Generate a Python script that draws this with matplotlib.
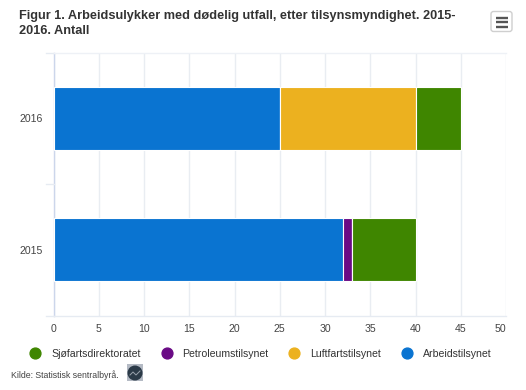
import matplotlib
matplotlib.use('Agg')
import matplotlib.pyplot as plt
from matplotlib.patches import FancyBboxPatch, Circle, Rectangle
from matplotlib.lines import Line2D

years = ['2015', '2016']
arbeid = [32, 25]
luftfart = [0, 15]
petroleum = [1, 0]
sjofart = [7, 5]
xticks = [0, 5, 10, 15, 20, 25, 30, 35, 40, 45, 50]

names = ['Sjøfartsdirektoratet', 'Petroleumstilsynet', 'Luftfartstilsynet', 'Arbeidstilsynet']
colors = ['#3f8600', '#6a0a85', '#ecb11f', '#0a74d1']

plt.rcParams['font.family'] = ['Liberation Sans', 'DejaVu Sans']

W, H = 526, 390
fig = plt.figure(figsize=(W / 100, H / 100), dpi=100)
ax = fig.add_axes([53.5 / W, (H - 315.5) / H, 452.5 / W, 263 / H])

y = [0, 1]
left = [0, 0]
# same stacking order as the picture, from the left
for vals, col in [(arbeid, colors[3]), (petroleum, colors[1]), (luftfart, colors[2]), (sjofart, colors[0])]:
    ax.barh(y, vals, left=left, height=0.48, color=col, edgecolor='white', linewidth=0.8, zorder=3)
    left = [a + b for a, b in zip(left, vals)]

ax.set_xlim(0, 50)
ax.set_ylim(-0.5, 1.5)
ax.set_xticks(xticks)
ax.set_yticks(y)
ax.set_yticklabels(years)
ax.grid(axis='x', color='#e9edf2', linewidth=1, zorder=0)
ax.tick_params(axis='x', length=0, pad=6, labelsize=7.6, labelcolor='#444444')
ax.tick_params(axis='y', length=0, pad=8, labelsize=7.6, labelcolor='#444444')
for s in ['top', 'right']:
    ax.spines[s].set_visible(False)
ax.spines['left'].set_color('#ccd6eb')
ax.spines['bottom'].set_color('#e6ebf2')
ax.spines['left'].set_linewidth(1)
ax.spines['bottom'].set_linewidth(1)
ax.set_axisbelow(True)
# last label sits inside the chart edge in the picture
ax.get_xticklabels()[-1].set_horizontalalignment('right')
ax.get_xticklabels()[-1].set_x(50)


def px(x, y_):
    return x / W, 1 - y_ / H


# left ticks between categories, top and bottom lines
for yy in [52.5, 184, 315.5]:
    x0, y0 = px(46, yy)
    x1, y1 = px(53.5, yy)
    fig.add_artist(Line2D([x0, x1], [y0, y1], color='#e6ebf2', lw=1))
x0, y0 = px(53.5, 52.5)
x1, y1 = px(506, 52.5)
fig.add_artist(Line2D([x0, x1], [y0, y1], color='#eef1f6', lw=1))

tx, ty = px(19, 16.5)
fig.text(tx, ty, 'Figur 1. Arbeidsulykker med dødelig utfall, etter tilsynsmyndighet. 2015-',
         fontsize=9.2, fontweight='bold', color='#333333', va='center')
tx, ty = px(19, 31.5)
fig.text(tx, ty, '2016. Antall', fontsize=9.2, fontweight='bold', color='#333333', va='center')

# legend
for name, col, cx, tx_ in zip(names, colors, [35, 167, 294, 407], [51, 182, 310, 423]):
    lx, ly = px(cx, 353)
    fig.add_artist(Line2D([lx], [ly], marker='o', markersize=7.8, color=col, lw=0))
    lx, ly = px(tx_, 354)
    fig.text(lx, ly, name, fontsize=7.6, color='#333333', va='center')

lx, ly = px(11, 375.5)
fig.text(lx, ly, 'Kilde: Statistisk sentralbyrå.', fontsize=6.3, color='#444444', va='center')

# overlay in pixel coordinates for the menu button and the logo
over = fig.add_axes([0, 0, 1, 1], facecolor='none')
over.set_xlim(0, W)
over.set_ylim(H, 0)
over.axis('off')
over.add_patch(FancyBboxPatch((491, 11.5), 21, 20, boxstyle='round,pad=0,rounding_size=2.5',
                              fc='white', ec='#cfcfcf', lw=1))
for yy in [17.5, 22, 26.5]:
    over.plot([496, 508], [yy, yy], color='#555555', lw=1.7, solid_capstyle='butt')
over.add_patch(Rectangle((127, 364), 16, 17, fc='#b4bac4', ec='none'))
over.add_patch(Circle((135, 373), 7.5, fc='#2b3a48', ec='none'))
over.plot([130, 133, 136, 140], [375, 372, 375, 371], color='#9aa3ad', lw=0.7)

fig.savefig('out.png', dpi=100)
